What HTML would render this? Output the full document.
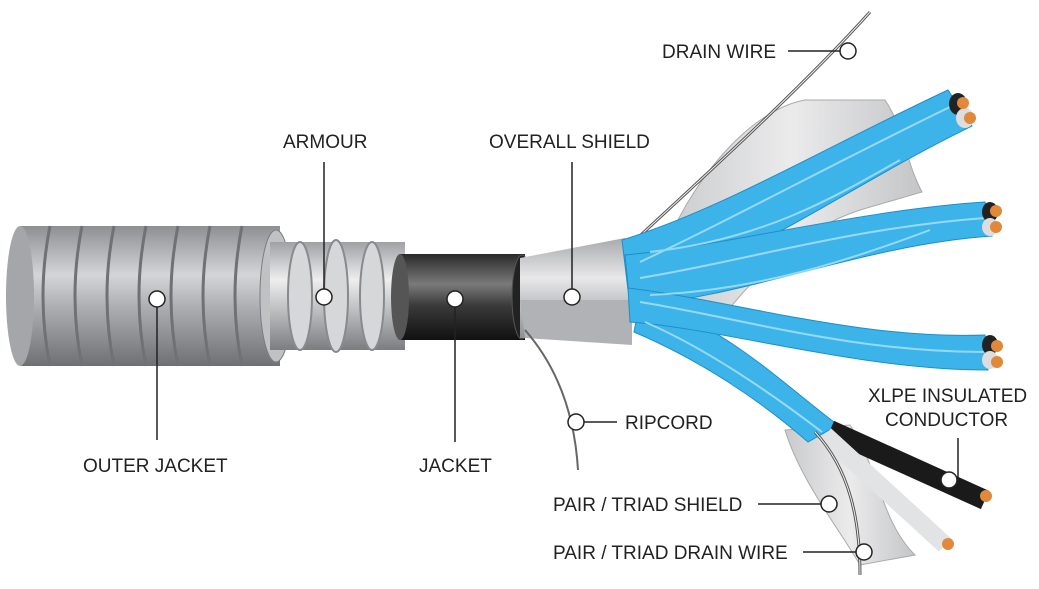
<!DOCTYPE html>
<html><head><style>
html,body{margin:0;padding:0;background:#fff;width:1039px;height:589px;overflow:hidden}
text{font-family:"Liberation Sans",sans-serif;font-size:19px;fill:#222}
</style></head><body>
<svg width="1039" height="589" viewBox="0 0 1039 589" xmlns="http://www.w3.org/2000/svg">
<defs>
<linearGradient id="gy" x1="0" y1="0" x2="0" y2="1">
<stop offset="0" stop-color="#8d8f93"/><stop offset="0.35" stop-color="#d4d5d7"/><stop offset="0.6" stop-color="#a9abae"/><stop offset="1" stop-color="#6e7074"/></linearGradient>
<linearGradient id="ar" x1="0" y1="0" x2="0" y2="1">
<stop offset="0" stop-color="#9fa1a4"/><stop offset="0.35" stop-color="#eeeeef"/><stop offset="0.65" stop-color="#b9bbbd"/><stop offset="1" stop-color="#7b7d80"/></linearGradient>
<linearGradient id="bk" x1="0" y1="0" x2="0" y2="1">
<stop offset="0" stop-color="#2a2a2a"/><stop offset="0.35" stop-color="#7a7a7a"/><stop offset="0.6" stop-color="#3a3a3a"/><stop offset="1" stop-color="#111"/></linearGradient>
<linearGradient id="sh" x1="0" y1="0" x2="0" y2="1">
<stop offset="0" stop-color="#a8aaad"/><stop offset="0.4" stop-color="#e8e8e9"/><stop offset="1" stop-color="#8e9093"/></linearGradient>
<linearGradient id="sheet" x1="0" y1="0" x2="1" y2="0">
<stop offset="0" stop-color="#c9cacc"/><stop offset="0.5" stop-color="#ebebec"/><stop offset="1" stop-color="#c4c5c7"/></linearGradient>
</defs>
<path d="M660,260 C690,180 750,110 805,100 L885,100 C905,130 905,160 922,192 L860,210 C800,230 760,270 720,320 L680,330 Z" fill="url(#sheet)" stroke="#aaa" stroke-width="1"/>
<path d="M785,430 L850,425 C880,470 880,520 915,555 L860,565 C840,530 800,480 785,430 Z" fill="url(#sheet)" stroke="#aaa" stroke-width="1"/>
<rect x="20" y="226" width="260" height="140" fill="url(#gy)"/>
<ellipse cx="20" cy="296" rx="14" ry="70" fill="#a4a6a9"/>
<g fill="none" stroke="#6f7175" stroke-width="3">
<path d="M50,226 q-14,70 0,140"/><path d="M82,226 q-14,70 0,140"/><path d="M114,226 q-14,70 0,140"/><path d="M146,226 q-14,70 0,140"/><path d="M178,226 q-14,70 0,140"/><path d="M210,226 q-14,70 0,140"/><path d="M242,226 q-14,70 0,140"/>
</g>
<ellipse cx="276" cy="296" rx="16" ry="66" fill="#bfc1c3" stroke="#7b7d80"/>
<rect x="270" y="242" width="135" height="108" fill="url(#ar)"/>
<g fill="#d6d7d8" stroke="#888a8d" stroke-width="2">
<ellipse cx="300" cy="296" rx="12" ry="54"/><ellipse cx="336" cy="296" rx="12" ry="56"/><ellipse cx="372" cy="296" rx="12" ry="54"/>
</g>
<rect x="400" y="254" width="125" height="86" fill="url(#bk)"/>
<ellipse cx="400" cy="297" rx="9" ry="43" fill="#555"/>
<ellipse cx="522" cy="297" rx="10" ry="42" fill="#222" stroke="#555"/>
<path d="M520,258 L625,238 L632,338 L520,338 Z" fill="url(#sh)"/>
<path d="M520,300 L632,300 L632,345 L525,338 Z" fill="#b0b2b5"/>
<path d="M630,245 C700,180 800,90 870,12" fill="none" stroke="#555" stroke-width="3"/>
<path d="M630,245 C700,180 800,90 870,12" fill="none" stroke="#eee" stroke-width="1"/>
<g fill="#3cb4ea" stroke="#1d8ec8" stroke-width="1">
<path d="M640,300 C720,320 790,390 838,425 L808,442 C760,400 700,360 634,332 Z"/>
<path d="M622,240 C720,210 820,150 948,90 L972,126 C840,190 740,270 628,290 Z"/>
<path d="M625,255 C730,245 860,210 985,202 L992,236 C860,245 740,300 630,305 Z"/>
<path d="M628,288 C730,300 860,340 985,335 L988,370 C860,370 730,330 630,322 Z"/>
</g>
<g fill="none" stroke="#a8e0f8" stroke-width="2" opacity="0.85">
<path d="M640,262 C740,215 830,165 952,106"/><path d="M640,278 C740,262 850,228 985,218"/><path d="M640,302 C740,318 850,352 985,352"/><path d="M645,322 C710,350 780,400 822,432"/>
<path d="M650,252 C760,240 830,200 900,160"/><path d="M650,295 C760,290 850,260 930,230"/>
</g>
<g>
<ellipse cx="958" cy="104" rx="9" ry="11" fill="#222"/><ellipse cx="965" cy="118" rx="9" ry="10" fill="#ddd"/>
<circle cx="963" cy="103" r="6" fill="#e0893a"/><circle cx="970" cy="118" r="6" fill="#e0893a"/>
<ellipse cx="990" cy="212" rx="8" ry="10" fill="#222"/><ellipse cx="990" cy="227" rx="8" ry="9" fill="#ddd"/>
<circle cx="996" cy="211" r="6" fill="#e0893a"/><circle cx="996" cy="227" r="6" fill="#e0893a"/>
<ellipse cx="990" cy="345" rx="8" ry="10" fill="#222"/><ellipse cx="990" cy="360" rx="8" ry="9" fill="#ddd"/>
<circle cx="997" cy="346" r="6" fill="#e0893a"/><circle cx="997" cy="362" r="6" fill="#e0893a"/>
</g>
<path d="M830,430 L985,500" stroke="#1a1a1a" stroke-width="20"/>
<circle cx="986" cy="496" r="6" fill="#e0893a"/>
<path d="M825,435 L945,545" stroke="#e2e3e4" stroke-width="18"/>
<circle cx="948" cy="544" r="6" fill="#e0893a"/>
<path d="M525,330 C560,370 575,420 578,470" fill="none" stroke="#666" stroke-width="2"/>
<path d="M815,432 C850,470 860,520 860,575" fill="none" stroke="#555" stroke-width="3"/>
<path d="M815,432 C850,470 860,520 860,575" fill="none" stroke="#eee" stroke-width="1"/>
<g stroke="#222" stroke-width="1.5" fill="none">
<line x1="157" y1="300" x2="157" y2="440"/>
<line x1="324" y1="162" x2="324" y2="297"/>
<line x1="455" y1="300" x2="455" y2="442"/>
<line x1="572" y1="162" x2="572" y2="297"/>
<line x1="788" y1="51" x2="848" y2="51"/>
<line x1="576" y1="422" x2="617" y2="422"/>
<line x1="958" y1="438" x2="958" y2="480"/>
<line x1="758" y1="504" x2="828" y2="504"/>
<line x1="803" y1="552" x2="862" y2="552"/>
</g>
<g fill="#fff" stroke="#222" stroke-width="1.5">
<circle cx="157" cy="299" r="8"/><circle cx="324" cy="297" r="8"/><circle cx="455" cy="299" r="8"/><circle cx="572" cy="297" r="8"/>
<circle cx="848" cy="51" r="8"/><circle cx="576" cy="422" r="8"/><circle cx="949" cy="480" r="8"/><circle cx="829" cy="504" r="8"/><circle cx="864" cy="552" r="8"/>
</g>
<text x="662" y="58">DRAIN WIRE</text>
<text x="283" y="148">ARMOUR</text>
<text x="489" y="148">OVERALL SHIELD</text>
<text x="83" y="472">OUTER JACKET</text>
<text x="419" y="472">JACKET</text>
<text x="625" y="429">RIPCORD</text>
<text x="868" y="402">XLPE INSULATED</text>
<text x="885" y="426">CONDUCTOR</text>
<text x="553" y="511">PAIR / TRIAD SHIELD</text>
<text x="553" y="559">PAIR / TRIAD DRAIN WIRE</text>
</svg>
</body></html>
